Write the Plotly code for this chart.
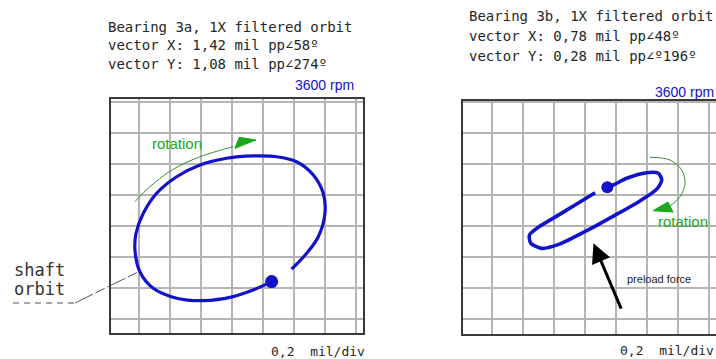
import plotly.graph_objects as go

# ---------------- data (mils, 0.2 mil per division) ----------------
orbit_a_x = [0.385, 0.482, 0.557, 0.600, 0.589, 0.525, 0.417, 0.288, 0.137, -0.034, -0.206, -0.357,
             -0.486, -0.572, -0.619, -0.626, -0.594, -0.508, -0.357, -0.185, 0.008, 0.137, 0.256]
orbit_a_y = [-0.279, -0.176, -0.069, 0.082, 0.211, 0.329, 0.415, 0.447, 0.452, 0.437, 0.394, 0.318,
             0.211, 0.082, -0.047, -0.155, -0.295, -0.402, -0.466, -0.482, -0.456, -0.413, -0.359]
keyphasor_a = (0.256, -0.359)

orbit_b_x = [0.065, -0.054, -0.183, -0.312, -0.359, -0.350, -0.279, -0.161, 0.011, 0.183, 0.355,
             0.463, 0.495, 0.473, 0.398, 0.269, 0.183, 0.144]
orbit_b_y = [0.215, 0.142, 0.064, -0.015, -0.058, -0.112, -0.144, -0.115, -0.030, 0.064, 0.162,
             0.238, 0.297, 0.340, 0.344, 0.308, 0.265, 0.250]
keyphasor_b = (0.144, 0.250)

# rotation arrows (decoration)
rot_a_x = [-0.626, -0.529, -0.379, -0.206, 0.008]
rot_a_y = [0.157, 0.254, 0.366, 0.447, 0.512]
rot_a_head_x = [0.019, 0.047, 0.155, 0.019]
rot_a_head_y = [0.501, 0.572, 0.555, 0.501]

rot_b_x = [0.419, 0.548, 0.624, 0.645, 0.613, 0.548]
rot_b_y = [0.443, 0.426, 0.361, 0.275, 0.189, 0.129]
rot_b_head_x = [0.439, 0.535, 0.568, 0.439]
rot_b_head_y = [0.099, 0.155, 0.090, 0.099]

preload_tail = (0.237, -0.542)
preload_tip = (0.054, -0.111)

header_a = ["Bearing 3a, 1X filtered orbit", "vector X: 1,42 mil pp∠58º", "vector Y: 1,08 mil pp∠274º"]
header_b = ["Bearing 3b, 1X filtered orbit", "vector X: 0,78 mil pp∠48º", "vector Y: 0,28 mil pp∠º196º"]
speed_label = "3600 rpm"
scale_label = "0,2  mil/div"

W, H = 716, 359
BLUE = "#1212c8"
GREEN = "#1aa81a"
MONO = "DejaVu Sans Mono"
SANS = "Liberation Sans"

def px(x):
    return x / W

def py(y):
    return (H - y) / H

fig = go.Figure()

# panel a
fig.add_trace(go.Scatter(x=orbit_a_x, y=orbit_a_y, mode="lines", line=dict(color=BLUE, width=3.2, shape="spline", smoothing=1.0),
                         xaxis="x", yaxis="y", hoverinfo="skip"))
fig.add_trace(go.Scatter(x=[keyphasor_a[0]], y=[keyphasor_a[1]], mode="markers", marker=dict(color=BLUE, size=13),
                         xaxis="x", yaxis="y"))
fig.add_trace(go.Scatter(x=rot_a_x, y=rot_a_y, mode="lines", line=dict(color="#3c8c3c", width=1, shape="spline"),
                         xaxis="x", yaxis="y"))
fig.add_trace(go.Scatter(x=rot_a_head_x, y=rot_a_head_y, mode="lines", fill="toself", fillcolor=GREEN,
                         line=dict(color=GREEN, width=1), xaxis="x", yaxis="y"))

# panel b
fig.add_trace(go.Scatter(x=orbit_b_x, y=orbit_b_y, mode="lines", line=dict(color=BLUE, width=3.6, shape="spline", smoothing=0.7),
                         xaxis="x2", yaxis="y2"))
fig.add_trace(go.Scatter(x=[keyphasor_b[0]], y=[keyphasor_b[1]], mode="markers", marker=dict(color=BLUE, size=12),
                         xaxis="x2", yaxis="y2"))
fig.add_trace(go.Scatter(x=rot_b_x, y=rot_b_y, mode="lines", line=dict(color="#3c8c3c", width=1, shape="spline"),
                         xaxis="x2", yaxis="y2"))
fig.add_trace(go.Scatter(x=rot_b_head_x, y=rot_b_head_y, mode="lines", fill="toself", fillcolor=GREEN,
                         line=dict(color=GREEN, width=1), xaxis="x2", yaxis="y2"))

axis_common = dict(showticklabels=False, ticks="", zeroline=False, showline=False,
                   showgrid=True, gridcolor="#b4b4b4", gridwidth=1.6, dtick=0.2, tick0=0, fixedrange=True)

fig.update_layout(
    width=W, height=H, margin=dict(l=0, r=0, t=0, b=0),
    paper_bgcolor="white", plot_bgcolor="white", showlegend=False,
    xaxis=dict(domain=[px(110), px(364)], range=[-0.787, 0.852], **axis_common),
    yaxis=dict(domain=[py(334), py(98)], range=[-0.697, 0.826], **axis_common),
    xaxis2=dict(domain=[px(462), 1.0], range=[-0.794, 0.845], anchor="y2", **axis_common),
    yaxis2=dict(domain=[py(335), py(100)], range=[-0.703, 0.813], anchor="x2", **axis_common),
)

# frames
fig.add_shape(type="rect", xref="x domain", yref="y domain", x0=0, x1=1, y0=0, y1=1,
              line=dict(color="#3a3a3a", width=2))
fig.add_shape(type="rect", xref="x2 domain", yref="y2 domain", x0=0, x1=1.05, y0=0, y1=1,
              line=dict(color="#3a3a3a", width=2))

annotations = []
# headers
for i, t in enumerate(header_a):
    annotations.append(dict(text=t, xref="paper", yref="paper", x=px(106), y=py([26.5, 45.5, 64.5][i]),
                            xanchor="left", yanchor="middle", showarrow=False,
                            font=dict(family=MONO, size=14, color="#262626")))
for i, t in enumerate(header_b):
    annotations.append(dict(text=t, xref="paper", yref="paper", x=px(467), y=py([16.5, 36, 55.5][i]),
                            xanchor="left", yanchor="middle", showarrow=False,
                            font=dict(family=MONO, size=14, color="#262626")))
# rpm labels
annotations.append(dict(text=speed_label, xref="paper", yref="paper", x=px(356), y=py(85), xanchor="right",
                        yanchor="middle", showarrow=False, font=dict(family=SANS, size=14, color=BLUE)))
annotations.append(dict(text=speed_label, xref="paper", yref="paper", x=px(716), y=py(91.5), xanchor="right",
                        yanchor="middle", showarrow=False, font=dict(family=SANS, size=14, color=BLUE)))
# scale labels
annotations.append(dict(text=scale_label.replace(" ", "&nbsp;"), xref="paper", yref="paper", x=px(367), y=py(351), xanchor="right",
                        yanchor="middle", showarrow=False, font=dict(family=MONO, size=13, color="#262626")))
annotations.append(dict(text=scale_label.replace(" ", "&nbsp;"), xref="paper", yref="paper", x=px(716), y=py(350.5), xanchor="right",
                        yanchor="middle", showarrow=False, font=dict(family=MONO, size=13, color="#262626")))
# rotation labels
annotations.append(dict(text="rotation", xref="x", yref="y", x=-0.357, y=0.534, showarrow=False,
                        font=dict(family=SANS, size=15, color=GREEN)))
annotations.append(dict(text="rotation", xref="x2", yref="y2", x=0.629, y=0.028, showarrow=False,
                        font=dict(family=SANS, size=15, color=GREEN)))
# preload force
annotations.append(dict(text="preload force", xref="x2", yref="y2", x=0.258, y=-0.342, xanchor="left",
                        showarrow=False, font=dict(family=SANS, size=11, color="#222222")))
annotations.append(dict(text="", xref="x2", yref="y2", x=preload_tip[0], y=preload_tip[1],
                        axref="x2", ayref="y2", ax=preload_tail[0], ay=preload_tail[1],
                        showarrow=True, arrowhead=2, arrowsize=1.3, arrowwidth=3, arrowcolor="black"))
# shaft orbit label
annotations.append(dict(text="shaft", xref="paper", yref="paper", x=px(12), y=py(270), xanchor="left",
                        yanchor="middle", showarrow=False, font=dict(family=MONO, size=17, color="#333333")))
annotations.append(dict(text="orbit", xref="paper", yref="paper", x=px(12), y=py(289), xanchor="left",
                        yanchor="middle", showarrow=False, font=dict(family=MONO, size=17, color="#333333")))
fig.update_layout(annotations=annotations)

# leader line for shaft orbit
fig.add_shape(type="line", xref="paper", yref="paper", x0=px(13), x1=px(75), y0=py(303), y1=py(303),
              line=dict(color="#8a8a8a", width=1.5, dash="6px,5px"))
fig.add_shape(type="line", xref="paper", yref="paper", x0=px(75), x1=px(138), y0=py(303), y1=py(272),
              line=dict(color="#555555", width=1, dash="20px,3px,10px,3px"))

fig.write_html("out.html", config={"displayModeBar": False},
               post_script="document.body.style.margin='0';document.body.style.overflow='hidden';")
